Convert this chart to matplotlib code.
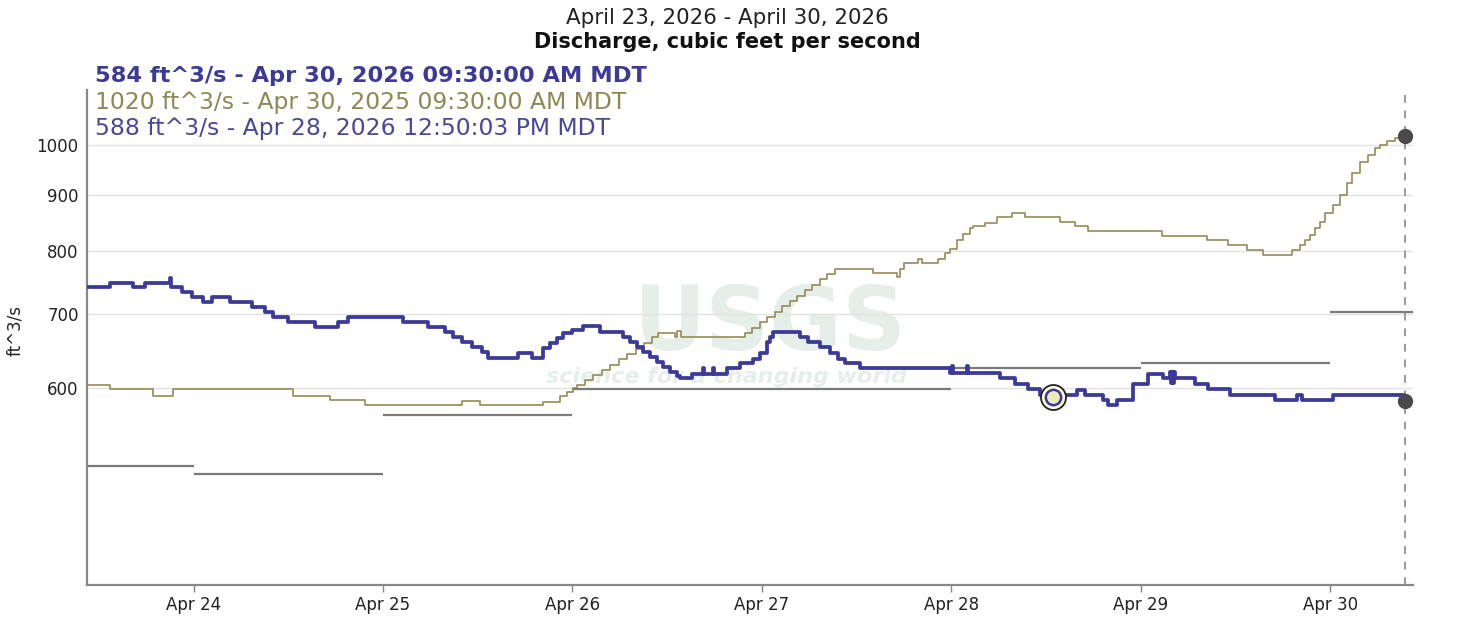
import numpy as np
import pandas as pd
import matplotlib
matplotlib.use("Agg")
import matplotlib.pyplot as plt
import matplotlib.dates as mdates
from matplotlib.ticker import FixedLocator, FixedFormatter

# data section (days after Apr 23 2026 00:00, discharge in ft^3/s)
base = pd.Timestamp("2026-04-23")

current_days = [0.40, 0.559, 0.681, 0.744, 0.876, 0.881, 0.939, 0.992, 1.050, 1.098,
                1.193, 1.309, 1.378, 1.420, 1.499, 1.642, 1.763, 1.816, 2.106, 2.238,
                2.328, 2.370, 2.418, 2.470, 2.523, 2.555, 2.713, 2.787, 2.845, 2.882,
                2.919, 2.951, 2.998, 3.057, 3.146, 3.268, 3.305, 3.342, 3.373, 3.410,
                3.447, 3.479, 3.516, 3.553, 3.569, 3.632, 3.690, 3.695, 3.743, 3.748,
                3.817, 3.885, 3.954, 3.991, 4.028, 4.044, 4.060, 4.202, 4.245, 4.308,
                4.361, 4.403, 4.440, 4.519, 4.994, 5.005, 5.010, 5.084, 5.089, 5.258,
                5.337, 5.406, 5.469, 5.665, 5.707, 5.802, 5.828, 5.876, 5.960, 6.040,
                6.119, 6.156, 6.161, 6.166, 6.171, 6.176, 6.181, 6.288, 6.356, 6.473,
                6.710, 6.826, 6.853, 7.016, 7.390, 7.396]
current_cfs = [741, 748, 741, 748, 756, 741, 734, 726, 719, 726,
               719, 711, 704, 696, 689, 682, 689, 696, 689, 682,
               675, 668, 661, 654, 647, 639, 646, 639, 652, 659,
               666, 673, 678, 683, 675, 668, 661, 654, 647, 640,
               633, 627, 620, 615, 612, 618, 626, 618, 626, 618,
               625, 632, 638, 646, 661, 668, 675, 668, 661, 654,
               646, 638, 632, 625, 619, 628, 619, 628, 619, 612,
               605, 598, 591, 597, 591, 585, 579, 585, 605, 618,
               612, 620, 606, 620, 606, 620, 612, 605, 598, 591,
               585, 591, 585, 591, 584, 584]

last_year_days = [0.40, 0.559, 0.786, 0.892, 1.525, 1.721, 1.906, 2.418, 2.513, 2.845,
                  2.935, 2.972, 3.004, 3.025, 3.067, 3.109, 3.157, 3.199, 3.247, 3.289,
                  3.336, 3.379, 3.421, 3.453, 3.542, 3.553, 3.574, 3.912, 3.949, 3.991,
                  4.028, 4.070, 4.107, 4.149, 4.186, 4.229, 4.266, 4.308, 4.345, 4.387,
                  4.588, 4.714, 4.730, 4.751, 4.825, 4.846, 4.931, 4.968, 4.994, 5.031,
                  5.063, 5.100, 5.116, 5.179, 5.242, 5.322, 5.390, 5.575, 5.654, 5.723,
                  6.114, 6.351, 6.462, 6.562, 6.647, 6.800, 6.842, 6.869, 6.895, 6.921,
                  6.948, 6.974, 7.016, 7.053, 7.090, 7.117, 7.159, 7.201, 7.238, 7.264,
                  7.301, 7.344, 7.396]
last_year_cfs = [604, 598, 590, 598, 590, 585, 578, 583, 578, 582,
                 589, 595, 600, 603, 610, 616, 623, 630, 637, 644,
                 651, 659, 667, 673, 668, 676, 668, 673, 681, 689,
                 696, 704, 713, 720, 728, 737, 745, 754, 762, 771,
                 764, 757, 770, 780, 786, 780, 787, 796, 804, 819,
                 830, 839, 843, 849, 859, 866, 859, 851, 843, 835,
                 826, 818, 810, 802, 794, 802, 810, 819, 827, 839,
                 851, 866, 881, 900, 923, 942, 966, 979, 993, 1000,
                 1009, 1014, 1020]

# daily statistic segments (one value per calendar day)
stat_days = [0, 1, 2, 3, 4, 5, 6, 7]
stat_cfs = [509, 500, 567, 598, 598, 626, 632, 703]

marker_day = 5.535   # Apr 28 12:50
marker_cfs = 588
now_day = 7.396      # Apr 30 09:30

blue = "#3c3a98"
olive = "#928c58"


def to_time(days):
    return base + pd.to_timedelta(np.array(days), unit="D")


fig = plt.figure(figsize=(14.8, 6.24), dpi=100)
ax = fig.add_axes([87 / 1480, 39 / 624, 1326 / 1480, 495 / 624])

# watermark
ax.text(0.515, 0.525, "USGS", transform=ax.transAxes, ha="center", va="center",
        fontsize=64, fontweight="bold", color="#e6eee9", family="DejaVu Sans", zorder=0)
ax.text(0.482, 0.42, "science for a changing world", transform=ax.transAxes,
        ha="center", va="center", fontsize=16, fontweight="bold", style="italic",
        color="#e6eee9", family="DejaVu Sans", zorder=0)

# stats segments
for i, d in enumerate(stat_days):
    ax.hlines(stat_cfs[i], to_time([d])[0], to_time([d + 1])[0], color="#7a7a7a",
              lw=1.6, zorder=2)

ax.plot(to_time(last_year_days), last_year_cfs, drawstyle="steps-post", color=olive,
        lw=1.2, zorder=3)
ax.plot(to_time(current_days), current_cfs, drawstyle="steps-post", color=blue,
        lw=2.7, zorder=4)

ax.axvline(to_time([now_day])[0], color="#9a9a9a", lw=1.4, ls=(0, (4, 4)), zorder=1)

ax.plot(to_time([now_day]), [current_cfs[-1]], "o", ms=10, color="#4a4a4a", zorder=6)
ax.plot(to_time([now_day]), [last_year_cfs[-1]], "o", ms=10, color="#4a4a4a", zorder=6)
ax.plot(to_time([marker_day]), [marker_cfs], "o", ms=18, mfc="#fbf8dc", mec="#222222",
        mew=1.3, zorder=7)
ax.plot(to_time([marker_day]), [marker_cfs], "o", ms=11, mfc="#eeeac0", mec=blue,
        mew=1.8, zorder=8)

# axes
ax.set_yscale("log")
ax.set_ylim(396, 1123)
ax.set_xlim(to_time([0.4375])[0], to_time([7.4375])[0])
ax.yaxis.set_major_locator(FixedLocator([600, 700, 800, 900, 1000]))
ax.yaxis.set_major_formatter(FixedFormatter(["600", "700", "800", "900", "1000"]))
ax.yaxis.set_minor_locator(FixedLocator([]))
ax.xaxis.set_major_locator(mdates.DayLocator())
ax.xaxis.set_major_formatter(mdates.DateFormatter("%b %d"))
ax.grid(axis="y", color="#e2e2e2", lw=1, zorder=0)
ax.set_axisbelow(True)
for s in ["top", "right"]:
    ax.spines[s].set_visible(False)
for s in ["left", "bottom"]:
    ax.spines[s].set_color("#888888")
    ax.spines[s].set_linewidth(1.6)
ax.tick_params(axis="y", length=0, pad=6, labelsize=12, labelcolor="#222222")
ax.tick_params(axis="x", length=5, width=1, color="#888888", pad=3, labelsize=12,
               labelcolor="#222222")
for lab in ax.get_xticklabels() + ax.get_yticklabels():
    lab.set_family("DejaVu Sans")

fig.text(15 / 1480, 1 - 330 / 624, "ft^3/s", rotation=90, ha="center", va="center",
         fontsize=12, color="#222222", family="DejaVu Sans")

# titles and legend lines
fig.text(727 / 1480, 1 - 18 / 624, "April 23, 2026 - April 30, 2026", ha="center",
         va="center", fontsize=15.4, color="#222222", family="DejaVu Sans")
fig.text(727 / 1480, 1 - 42 / 624, "Discharge, cubic feet per second", ha="center",
         va="center", fontsize=15, fontweight="bold", color="#111111",
         family="DejaVu Sans")
fig.text(95 / 1480, 1 - 76 / 624, "584 ft^3/s - Apr 30, 2026 09:30:00 AM MDT",
         ha="left", va="center", fontsize=16.2, fontweight="bold", color=blue,
         family="DejaVu Sans")
fig.text(95 / 1480, 1 - 103 / 624, "1020 ft^3/s - Apr 30, 2025 09:30:00 AM MDT",
         ha="left", va="center", fontsize=16.9, color="#8f8852", family="DejaVu Sans")
fig.text(95 / 1480, 1 - 129 / 624, "588 ft^3/s - Apr 28, 2026 12:50:03 PM MDT",
         ha="left", va="center", fontsize=16.9, color="#4a4898", family="DejaVu Sans")

fig.savefig("out.png", dpi=100)
